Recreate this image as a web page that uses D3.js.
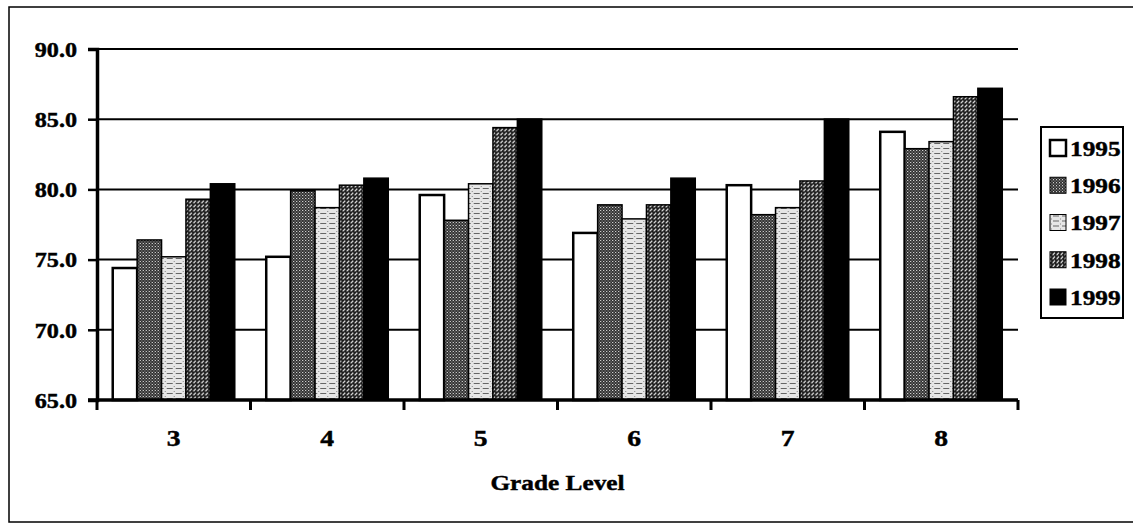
<!DOCTYPE html>
<html>
<head>
<meta charset="utf-8">
<script src="https://cdn.jsdelivr.net/npm/d3@7"></script>
<style>
  html, body { margin: 0; padding: 0; background: #fff; }
  svg { display: block; }
  svg text { font-family: "Liberation Serif", Tinos, "Times New Roman", serif !important; font-weight: 700; fill: #000; stroke: #000; stroke-width: 0.45px; }
</style>
</head>
<body>
<svg id="chart" width="1133" height="524"></svg>
<script>
const grades = ["3", "4", "5", "6", "7", "8"];
const years = ["1995", "1996", "1997", "1998", "1999"];
const v1995 = [74.4, 75.2, 79.6, 76.9, 80.3, 84.1];
const v1996 = [76.4, 79.9, 77.8, 78.9, 78.2, 82.9];
const v1997 = [75.2, 78.7, 80.4, 77.9, 78.7, 83.4];
const v1998 = [79.3, 80.3, 84.4, 78.9, 80.6, 86.6];
const v1999 = [80.4, 80.8, 85.0, 80.8, 85.0, 87.2];
const yTicks = [65, 70, 75, 80, 85, 90];
const xTitle = "Grade Level";

const seriesValues = [v1995, v1996, v1997, v1998, v1999];
const data = grades.map((g, i) => ({ grade: g, vals: years.map((y, j) => ({ year: y, value: seriesValues[j][i] })) }));

const svg = d3.select("#chart");
const plot = { left: 97, right: 1018, top: 49, bottom: 400 };
const SX = 1.15;

// patterns
const defs = svg.append("defs");
const p96 = defs.append("pattern").attr("id", "p1996").attr("patternUnits", "userSpaceOnUse").attr("width", 3).attr("height", 3);
p96.append("rect").attr("width", 3).attr("height", 3).attr("fill", "#2a2a2a");
p96.append("rect").attr("x", 0).attr("y", 0).attr("width", 1).attr("height", 1).attr("fill", "#fff");
p96.append("rect").attr("x", 1.5).attr("y", 1.5).attr("width", 1).attr("height", 1).attr("fill", "#ddd");

const p97 = defs.append("pattern").attr("id", "p1997").attr("patternUnits", "userSpaceOnUse").attr("width", 9).attr("height", 5);
p97.append("rect").attr("width", 9).attr("height", 5).attr("fill", "#e6e6e6");
p97.append("rect").attr("x", 0).attr("y", 3).attr("width", 6).attr("height", 1).attr("fill", "#666");
p97.append("rect").attr("x", 7).attr("y", 1).attr("width", 1).attr("height", 1).attr("fill", "#888");

const p98 = defs.append("pattern").attr("id", "p1998").attr("patternUnits", "userSpaceOnUse").attr("width", 4).attr("height", 4);
p98.append("rect").attr("width", 4).attr("height", 4).attr("fill", "#1a1a1a");
p98.append("path").attr("d", "M0.6,3.4 L3.0,0.6").attr("stroke", "#fff").attr("stroke-width", 1.1);

const fills = { "1995": "#fff", "1996": "url(#p1996)", "1997": "url(#p1997)", "1998": "url(#p1998)", "1999": "#000" };

// outer frame
svg.append("rect").attr("x", 9).attr("y", 7).attr("width", 1130).attr("height", 515)
  .attr("fill", "none").attr("stroke", "#000").attr("stroke-width", 1.5);

// scales
const y = d3.scaleLinear().domain([65, 90]).range([plot.bottom, plot.top]);
const x0 = d3.scaleBand().domain(grades).range([plot.left, plot.right]).paddingInner(0.205).paddingOuter(0.1025);
const x1 = d3.scaleBand().domain(years).range([0, x0.bandwidth()]);

// gridlines
svg.append("g").selectAll("line").data(yTicks.filter(t => t > 65)).join("line")
  .attr("x1", plot.left).attr("x2", plot.right)
  .attr("y1", d => y(d)).attr("y2", d => y(d))
  .attr("stroke", "#000").attr("stroke-width", 2);

// bars
const groups = svg.append("g").selectAll("g").data(data).join("g")
  .attr("transform", d => `translate(${x0(d.grade)},0)`);
groups.selectAll("rect").data(d => d.vals).join("rect")
  .attr("x", d => x1(d.year))
  .attr("y", d => y(d.value))
  .attr("width", x1.bandwidth())
  .attr("height", d => y(65) - y(d.value))
  .attr("fill", d => fills[d.year])
  .attr("stroke", "#000")
  .attr("stroke-width", d => d.year === "1995" ? 2.5 : 1.5);

// y axis
const yAxis = d3.axisLeft(y).tickValues(yTicks).tickFormat(d3.format(".1f")).tickSize(9).tickPadding(11);
const gy = svg.append("g").attr("transform", `translate(${plot.left},0)`).call(yAxis);
gy.select(".domain").attr("stroke-width", 3.5);
gy.selectAll(".tick line").attr("stroke-width", 2.5);
gy.selectAll(".tick text").style("font-size", "21px")
  .attr("x", null).attr("dy", "0.35em")
  .attr("transform", `translate(-20,0) scale(${SX},1)`);

// x axis: boundary ticks
const boundaries = d3.range(grades.length + 1).map(i => plot.left + i * x0.step());
const gx = svg.append("g");
gx.append("line").attr("x1", plot.left - 9).attr("x2", plot.right).attr("y1", plot.bottom).attr("y2", plot.bottom)
  .attr("stroke", "#000").attr("stroke-width", 3.5);
gx.selectAll("line.tk").data(boundaries).join("line").attr("class", "tk")
  .attr("x1", d => d).attr("x2", d => d).attr("y1", plot.bottom).attr("y2", plot.bottom + 10)
  .attr("stroke", "#000").attr("stroke-width", 3);
gx.selectAll("text").data(grades).join("text")
  .attr("transform", d => `translate(${x0(d) + x0.bandwidth() / 2},438) scale(${SX},1)`)
  .attr("dy", "0.35em").attr("text-anchor", "middle")
  .style("font-size", "24px").text(d => d);

svg.append("text")
  .attr("transform", `translate(${(plot.left + plot.right) / 2},482) scale(${SX},1)`)
  .attr("dy", "0.35em").attr("text-anchor", "middle").style("font-size", "22px").text(xTitle);

// legend
const lg = svg.append("g");
lg.append("rect").attr("x", 1041).attr("y", 127).attr("width", 82).attr("height", 191)
  .attr("fill", "#fff").attr("stroke", "#000").attr("stroke-width", 2);
const legendY = d3.scalePoint().domain(years).range([148, 297]);
const items = lg.selectAll("g.it").data(years).join("g").attr("class", "it")
  .attr("transform", d => `translate(0,${legendY(d)})`);
items.append("rect").attr("x", 1050).attr("y", -8).attr("width", 16).attr("height", 16)
  .attr("fill", d => fills[d]).attr("stroke", "#000").attr("stroke-width", d => d === "1995" ? 2.5 : 1);
items.append("text").attr("transform", `translate(1070,0) scale(${SX},1)`).attr("dy", "0.36em")
  .style("font-size", "22px").text(d => d);
</script>
</body>
</html>
